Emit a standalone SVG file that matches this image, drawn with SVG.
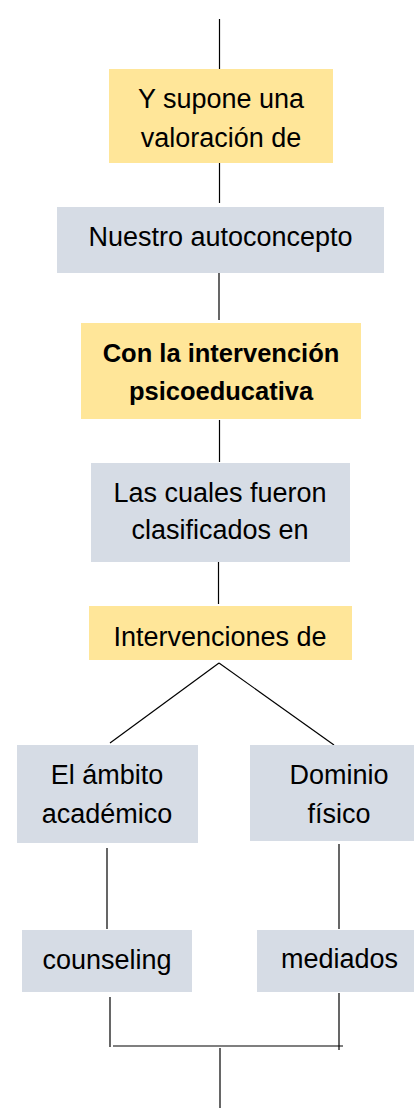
<svg xmlns="http://www.w3.org/2000/svg" width="414" height="1108" viewBox="0 0 414 1108">
<style>
.y{fill:#FFE699}
.g{fill:#D6DCE5}
text{font-family:"Liberation Sans",Arial,sans-serif;font-size:27px;fill:#000;text-anchor:middle}
.b{font-weight:bold;font-size:25.5px}
.c line{stroke:#000;stroke-width:1.2}
</style>
<rect width="414" height="1108" fill="#fff"/>
<g class="c" id="connectors">
<line x1="219.5" y1="19" x2="219.5" y2="69"/>
<line x1="219.5" y1="158" x2="219.5" y2="203"/>
<line x1="219" y1="269" x2="219" y2="320"/>
<line x1="219.5" y1="420" x2="219.5" y2="462"/>
<line x1="218.5" y1="561" x2="218.5" y2="604"/>
<line x1="219" y1="663" x2="110" y2="743"/>
<line x1="219" y1="663" x2="334" y2="745"/>
<line x1="107" y1="848" x2="107" y2="929"/>
<line x1="339" y1="844" x2="339" y2="929"/>
<line x1="110" y1="997" x2="110" y2="1047"/>
<line x1="339" y1="993" x2="339" y2="1050"/>
<line x1="113" y1="1046" x2="343" y2="1046"/>
<line x1="220" y1="1048" x2="220" y2="1108"/>
</g>
<g id="n1"><rect class="y" x="109" y="69" width="224" height="94"/><text x="221" y="108">Y supone una</text><text x="221" y="147">valoración de</text></g>
<g id="n2"><rect class="g" x="57" y="207" width="327" height="66"/><text x="220.5" y="246">Nuestro autoconcepto</text></g>
<g id="n3"><rect class="y" x="81" y="323" width="280" height="96"/><text class="b" x="221" y="362">Con la intervención</text><text class="b" x="221" y="400">psicoeducativa</text></g>
<g id="n4"><rect class="g" x="91" y="463" width="259" height="99"/><text x="220" y="502">Las cuales fueron</text><text x="220" y="539">clasificados en</text></g>
<g id="n5"><rect class="y" x="89" y="606" width="263" height="54"/><text x="220" y="646">Intervenciones de</text></g>
<g id="n6"><rect class="g" x="17" y="745" width="181" height="98"/><text x="107" y="784">El ámbito</text><text x="107" y="823">académico</text></g>
<g id="n7"><rect class="g" x="250" y="745" width="164" height="96"/><text x="339" y="784">Dominio</text><text x="339" y="823">físico</text></g>
<g id="n8"><rect class="g" x="22" y="930" width="170" height="62"/><text x="107" y="969">counseling</text></g>
<g id="n9"><rect class="g" x="257" y="930" width="157" height="62"/><text x="339.5" y="968">mediados</text></g>
</svg>
